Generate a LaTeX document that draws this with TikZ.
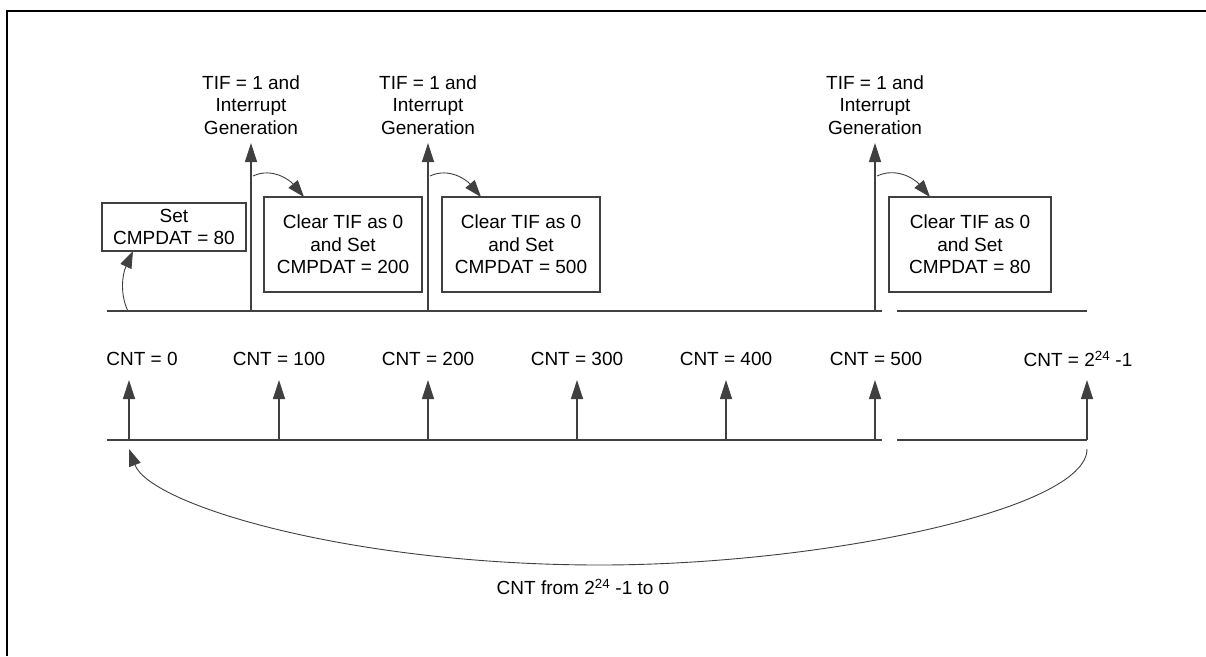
\documentclass[tikz,border=0pt]{standalone}
\usepackage{fontspec}
\setmainfont{Liberation Sans}
\usetikzlibrary{arrows.meta}
\definecolor{ln}{HTML}{404040}
\begin{document}
\begin{tikzpicture}[x=1pt,y=-1pt,
  every node/.style={font=\fontsize{19}{22.5}\selectfont, text=black},
  lbl/.style={align=center, inner sep=0pt},
  setbox/.style={draw=ln, line width=1.1pt, align=center, inner sep=0pt, minimum width=144pt, minimum height=48pt},
  clrbox/.style={draw=ln, line width=1.1pt, align=center, inner sep=0pt, minimum height=95pt},
  tline/.style={draw=ln, line width=1.3pt},
  uparrow/.style={draw=ln, line width=1.2pt, -{Triangle[length=19pt,width=12pt]}},
  curarrow/.style={draw=ln, line width=0.9pt, -{Triangle[length=17pt,width=12pt]}}
]
\useasboundingbox (0,0) rectangle (1206,656);
% frame
\draw[line width=2.5pt, black] (7,656) -- (7,11) -- (1206,11);

% ---------- upper part ----------
\coordinate (ut0) at (107,311);
\coordinate (ut1) at (882,311);
\coordinate (ut2) at (897,311);
\coordinate (ut3) at (1087,311);
\draw[tline] (ut0) -- (ut1);
\draw[tline] (ut2) -- (ut3);

\node[lbl] (tif1) at (251,105) {TIF = 1 and\\Interrupt\\Generation};
\node[lbl] (tif2) at (428,105) {TIF = 1 and\\Interrupt\\Generation};
\node[lbl] (tif3) at (875,105) {TIF = 1 and\\Interrupt\\Generation};

\coordinate (ua1b) at (251,311); \coordinate (ua1t) at (251,143);
\coordinate (ua2b) at (428,311); \coordinate (ua2t) at (428,143);
\coordinate (ua3b) at (875,311); \coordinate (ua3t) at (875,143);
\draw[uparrow] (ua1b) -- (ua1t);
\draw[uparrow] (ua2b) -- (ua2t);
\draw[uparrow] (ua3b) -- (ua3t);

\node[setbox] (setb) at (174,227) {Set\\CMPDAT = 80};
\node[clrbox, minimum width=158pt] (clr1) at (343,244.5) {Clear TIF as 0\\and Set\\CMPDAT = 200};
\node[clrbox, minimum width=158pt] (clr2) at (521,244.5) {Clear TIF as 0\\and Set\\CMPDAT = 500};
\node[clrbox, minimum width=162pt] (clr3) at (970,244.5) {Clear TIF as 0\\and Set\\CMPDAT = 80};

\coordinate (s0) at (128,311);
\coordinate (s1) at (133,251);
\draw[curarrow] (s0) .. controls (120,295) and (122,275) .. (s1);

\coordinate (c1s) at (253,176); \coordinate (c1e) at (304,197);
\coordinate (c2s) at (430,176); \coordinate (c2e) at (481,197);
\coordinate (c3s) at (877,176); \coordinate (c3e) at (930,197);
\draw[curarrow] (c1s) to[out=25,in=130] (c1e);
\draw[curarrow] (c2s) to[out=25,in=130] (c2e);
\draw[curarrow] (c3s) to[out=25,in=130] (c3e);

% ---------- lower part ----------
\coordinate (lt0) at (107,440);
\coordinate (lt1) at (882,440);
\coordinate (lt2) at (897,440);
\coordinate (lt3) at (1087,440);
\draw[tline] (lt0) -- (lt1);
\draw[tline] (lt2) -- (lt3);

\node[lbl] (cnt0) at (142,359) {CNT = 0};
\node[lbl] (cnt1) at (279,359) {CNT = 100};
\node[lbl] (cnt2) at (428,359) {CNT = 200};
\node[lbl] (cnt3) at (577,359) {CNT = 300};
\node[lbl] (cnt4) at (726,359) {CNT = 400};
\node[lbl] (cnt5) at (876,359) {CNT = 500};
\node[lbl] (cnt6) at (1078,359) {CNT = 2\textsuperscript{24} -1};

\foreach \i/\x in {0/129,1/279,2/428,3/577,4/726,5/875,6/1087}{
  \coordinate (la\i b) at (\x,440);
  \coordinate (la\i t) at (\x,380);
  \draw[uparrow] (la\i b) -- (la\i t);
}

\coordinate (wr0) at (1087,449);
\coordinate (wrm) at (600,565);
\coordinate (wr1) at (129,449);
\draw[curarrow] (wr0) .. controls (1087,510) and (820,565) .. (wrm)
  .. controls (350,565) and (150,505) .. (wr1);
\node[lbl] (wrl) at (583,587) {CNT from 2\textsuperscript{24} -1 to 0};
\end{tikzpicture}
\end{document}
